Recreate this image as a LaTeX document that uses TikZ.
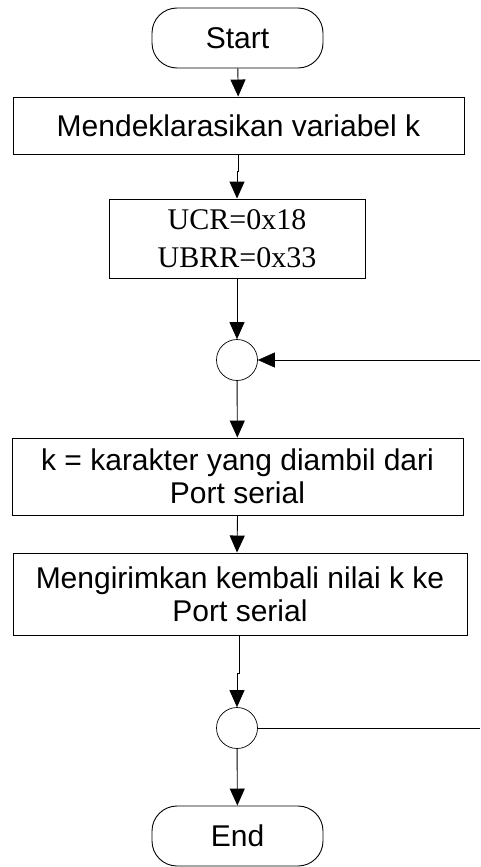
\documentclass[tikz,border=0pt]{standalone}
\usepackage{fontspec}
\setmainfont{Liberation Sans}
\newfontfamily\regfont{Liberation Serif}
\usetikzlibrary{arrows.meta}

\begin{document}
\begin{tikzpicture}[x=1pt, y=-1pt, line width=0.9pt,
    every node/.style={font=\fontsize{30}{33}\selectfont},
    terminal/.style={draw, rounded corners=25pt, minimum width=171pt, minimum height=60pt, inner sep=0pt},
    proc/.style={draw, rectangle, align=center, inner sep=0pt},
    junction/.style={draw, circle, minimum size=41pt, inner sep=0pt, line width=0.7pt},
    flow/.style={-{Triangle[width=15pt,length=17pt]}}]
    \useasboundingbox (0,0) rectangle (480,867);

    \node[terminal] (start) at (237.5,38) {Start};
    \node[proc, minimum width=451pt, minimum height=57pt] (decl) at (238.5,125.5) {Mendeklarasikan variabel k};
    \node[proc, minimum width=256pt, minimum height=79pt, font=\regfont\fontsize{30}{38}\selectfont] (regs) at (237,238.5) {UCR=0x18\\UBRR=0x33};
    \node[junction] (j1) at (237,360) {};
    \node[proc, minimum width=451pt, minimum height=77pt] (ambil) at (237.5,476.5) {k = karakter yang diambil dari\\Port serial};
    \node[proc, minimum width=454pt, minimum height=82pt] (kirim) at (240,594) {Mengirimkan kembali nilai k ke\\Port serial};
    \node[junction] (j2) at (237,728) {};
    \node[terminal] (end) at (237.5,836) {End};

    \coordinate (back1) at (480,360);
    \coordinate (back2) at (480,728);

    \draw[flow] (start) -- (decl);
    \draw[flow] (decl.south) -- ++(0,17) -| (regs.north);
    \draw[flow] (regs) -- (j1);
    \draw[flow] (j1) -- (ambil);
    \draw[flow] (ambil.south -| kirim.south) ++(-2.5,0) -- (kirim.north -| j1.south);
    \draw[flow] (kirim.south) ++(-1,0) -- ++(0,38) -| (j2.north);
    \draw[flow] (j2) -- (end);

    % loop back from the right edge
    \draw[flow, line width=0.7pt] (back1) -- (j1.east);
    \draw[line width=0.7pt] (j2.east) -- (back2);
\end{tikzpicture}
\end{document}
